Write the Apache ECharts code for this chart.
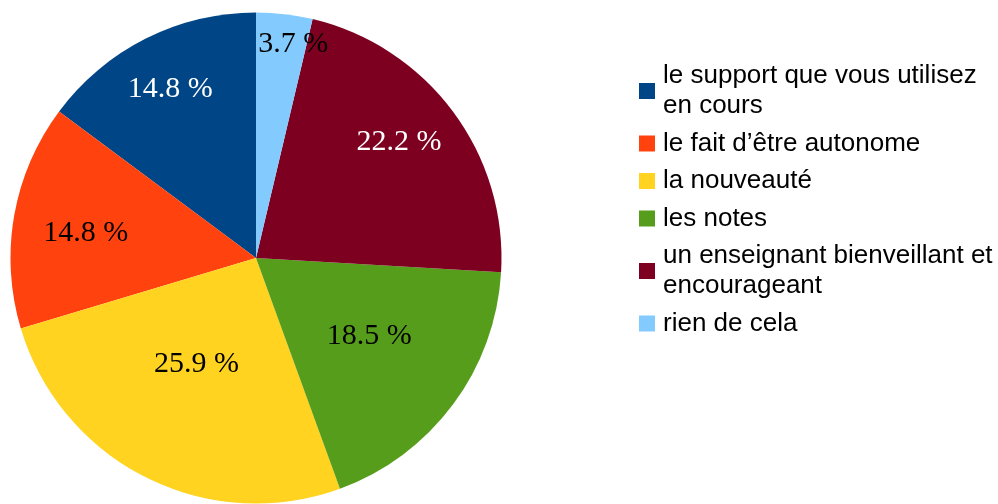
<!DOCTYPE html>
<html>
<head>
<meta charset="utf-8">
<script src="https://cdn.jsdelivr.net/npm/echarts@6/dist/echarts.min.js"></script>
<style>
  html, body { margin: 0; padding: 0; background: #fff; }
  #pieChart { width: 998px; height: 504px; }
</style>
</head>
<body>
<div id="pieChart"></div>
<script>
// categories (legend order) and percentages
const categories = [
  "le support que vous utilisez\nen cours",
  "le fait d’être autonome",
  "la nouveauté",
  "les notes",
  "un enseignant bienveillant et\nencourageant",
  "rien de cela"
];
const percents = [14.8, 14.8, 25.9, 18.5, 22.2, 3.7];

// styling
const sliceColors = ["#004586", "#ff420e", "#ffd320", "#579d1c", "#7e0021", "#83caff"];
const labelColors = ["#ffffff", "#000000", "#000000", "#000000", "#ffffff", "#000000"];
// where each label sits along its slice (share of the radius), plus a small pixel nudge
const labelRadius = [0.77, 0.70, 0.494, 0.56, 0.752, 0.883];
const labelNudge = [[-1, 0], [-1, 5], [-5, -2], [3, -4], [-5, -6], [12, 1]];

let myChart = echarts.init(document.getElementById("pieChart"));

myChart.setOption({
  animation: false,
  backgroundColor: "#ffffff",
  legend: {
    orient: "vertical",
    left: 639,
    top: 61,
    padding: 0,
    itemWidth: 16,
    itemHeight: 16,
    itemGap: 7.5,
    icon: "rect",
    selectedMode: false,
    data: categories,
    textStyle: {
      fontFamily: "Liberation Sans",
      fontSize: 26,
      lineHeight: 30,
      color: "#000",
      padding: [0, 0, 0, 3]
    }
  },
  series: [
    {
      type: "pie",
      center: [256, 258],
      radius: 245.5,
      startAngle: 90,
      clockwise: false,
      avoidLabelOverlap: false,
      labelLine: { show: false },
      label: {
        show: true,
        position: "inside",
        fontFamily: "Liberation Serif",
        fontSize: 30,
        formatter: function (p) {
          return p.value + " %";
        }
      },
      labelLayout: function (p) {
        // push each label out along the middle of its own slice
        try {
          let lay = myChart.getModel().getSeriesByIndex(0).getData().getItemLayout(p.dataIndex);
          let mid = (lay.startAngle + lay.endAngle) / 2;
          let rr = lay.r * labelRadius[p.dataIndex];
          let n = labelNudge[p.dataIndex];
          return {
            x: lay.cx + rr * Math.cos(mid) + n[0],
            y: lay.cy + rr * Math.sin(mid) + n[1],
            align: "center",
            verticalAlign: "middle"
          };
        } catch (e) {
          return {};
        }
      },
      data: categories.map(function (name, i) {
        return {
          name: name,
          value: percents[i],
          itemStyle: { color: sliceColors[i] },
          label: { color: labelColors[i] }
        };
      })
    }
  ]
});

window.onresize = function () {
  myChart.resize();
};
</script>
</body>
</html>
